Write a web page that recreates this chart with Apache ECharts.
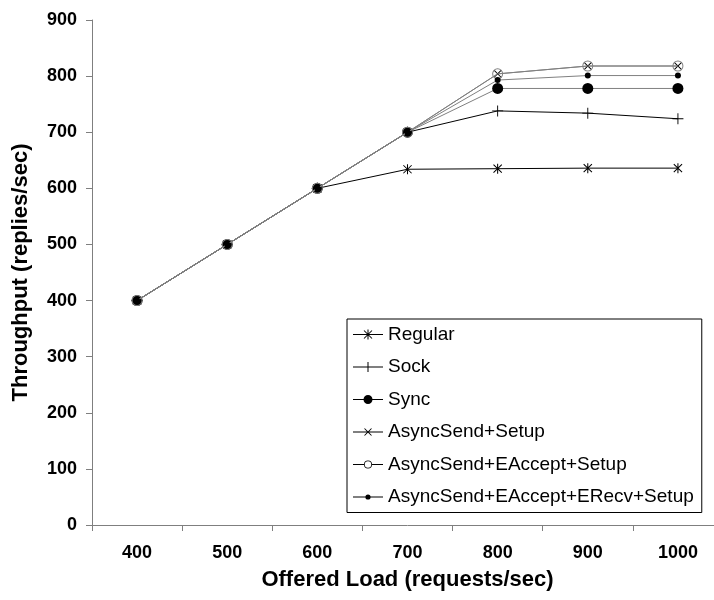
<!DOCTYPE html>
<html>
<head>
<meta charset="utf-8">
<script src="https://cdn.jsdelivr.net/npm/echarts@6/dist/echarts.min.js"></script>
<style>
  html, body { margin: 0; padding: 0; background: #fff; overflow: hidden; }
  /* the plot runs a little past the right edge of the 714px page, as the axis is cut off there */
  #chart { width: 723px; height: 600px; }
</style>
</head>
<body>
<div id="chart"></div>
<script>
// Offered load levels (requests/sec)
const loads = ['400', '500', '600', '700', '800', '900', '1000'];

// Throughput (replies/sec) per server variant
const regular      = [400, 500, 600, 634, 635, 636, 636];
const sock         = [400, 500, 600, 700, 738, 734, 724];
const sync         = [400, 500, 600, 700, 778, 778, 778];
const asyncSetup   = [400, 500, 600, 700, 804, 818, 818];
const asyncAccept  = [400, 500, 600, 700, 804, 818, 818];
const asyncRecv    = [400, 500, 600, 700, 793, 801, 801];

const seriesNames = [
  'Regular',
  'Sock',
  'Sync',
  'AsyncSend+Setup',
  'AsyncSend+EAccept+Setup',
  'AsyncSend+EAccept+ERecv+Setup'
];

const yTicks = { min: 0, max: 900, step: 100 };

// --- marker shapes (filled outlines, so thin strokes are drawn as slim polygons) ---
const asteriskShape =
  'M-0.5,-5 L0.5,-5 L0.5,5 L-0.5,5 Z ' +
  'M-4.35,-3.65 L-3.65,-4.35 L4.35,3.65 L3.65,4.35 Z ' +
  'M-4.35,3.65 L3.65,-4.35 L4.35,-3.65 L-3.65,4.35 Z';
const plusShape =
  'M-0.5,-6 L0.5,-6 L0.5,6 L-0.5,6 Z ' +
  'M-6,-0.5 L6,-0.5 L6,0.5 L-6,0.5 Z';
const crossShape =
  'M-4.35,-3.65 L-3.65,-4.35 L4.35,3.65 L3.65,4.35 Z ' +
  'M-4.35,3.65 L3.65,-4.35 L4.35,-3.65 L-3.65,4.35 Z';
const ringShape =
  'M5,0 A5,5 0 1,1 -5,0 A5,5 0 1,1 5,0 Z ' +
  'M4.1,0 A4.1,4.1 0 1,0 -4.1,0 A4.1,4.1 0 1,0 4.1,0 Z';

// --- legend keys: short line with the marker in its middle ---
const bar = 'M0,-0.5 L30,-0.5 L30,0.5 L0,0.5 Z ';
const legendIcons = [
  'path://' + bar +
    'M14.5,-5 L15.5,-5 L15.5,5 L14.5,5 Z ' +
    'M10.65,-3.65 L11.35,-4.35 L19.35,3.65 L18.65,4.35 Z ' +
    'M10.65,3.65 L18.65,-4.35 L19.35,-3.65 L11.35,4.35 Z',
  'path://' + bar +
    'M14.5,-5 L15.5,-5 L15.5,5 L14.5,5 Z',
  'path://' + bar +
    'M19.5,0 A4.5,4.5 0 1,1 10.5,0 A4.5,4.5 0 1,1 19.5,0 Z',
  'path://' + bar +
    'M11.15,-3.15 L11.85,-3.85 L18.85,3.15 L18.15,3.85 Z ' +
    'M11.15,3.15 L18.15,-3.85 L18.85,-3.15 L11.85,3.85 Z',
  'path://M0,-0.5 L11,-0.5 L11,0.5 L0,0.5 Z M19,-0.5 L30,-0.5 L30,0.5 L19,0.5 Z ' +
    'M19,0 A4,4 0 1,1 11,0 A4,4 0 1,1 19,0 Z ' +
    'M18.2,0 A3.2,3.2 0 1,0 11.8,0 A3.2,3.2 0 1,0 18.2,0 Z',
  'path://' + bar +
    'M17.6,0 A2.6,2.6 0 1,1 12.4,0 A2.6,2.6 0 1,1 17.6,0 Z'
];

const FONT = '"Liberation Sans", Arial, sans-serif';
const axisGray = '#7f7f7f';

function lineSeries(name, values, symbol, size, markerColor, lineColor, z) {
  return {
    name: name,
    type: 'line',
    data: values,
    symbol: symbol,
    symbolSize: size,
    showAllSymbol: true,
    z: z,
    lineStyle: { color: lineColor, width: 1 },
    itemStyle: { color: markerColor, borderWidth: 0 }
  };
}

const chart = echarts.init(document.getElementById('chart'), null, { renderer: 'canvas' });

chart.setOption({
  animation: false,
  backgroundColor: '#fff',
  grid: { left: 92, top: 20, right: 0, bottom: 75, containLabel: false },
  xAxis: {
    type: 'category',
    data: loads,
    boundaryGap: true,
    name: 'Offered Load (requests/sec)',
    nameLocation: 'middle',
    nameGap: 44,
    nameTextStyle: { fontFamily: FONT, fontWeight: 'bold', fontSize: 22, color: '#000' },
    axisLine: { lineStyle: { color: axisGray, width: 1 } },
    axisTick: { show: true, alignWithLabel: false, inside: false, length: 6, lineStyle: { color: axisGray } },
    axisLabel: { margin: 19, fontFamily: FONT, fontWeight: 'bold', fontSize: 18, color: '#000' },
    splitLine: { show: false }
  },
  yAxis: {
    type: 'value',
    min: yTicks.min,
    max: yTicks.max,
    interval: yTicks.step,
    name: 'Throughput (replies/sec)',
    nameLocation: 'middle',
    nameRotate: 90,
    nameGap: 60,
    nameTextStyle: { fontFamily: FONT, fontWeight: 'bold', fontSize: 22, color: '#000' },
    axisLine: { show: true, lineStyle: { color: axisGray, width: 1 } },
    axisTick: { show: true, inside: false, length: 6, lineStyle: { color: axisGray } },
    axisLabel: { margin: 15, fontFamily: FONT, fontWeight: 'bold', fontSize: 18, color: '#000' },
    splitLine: { show: false }
  },
  legend: {
    orient: 'vertical',
    left: 347,
    top: 319,
    padding: [6, 8, 6, 6],
    itemWidth: 30,
    itemHeight: 12,
    itemGap: 13.5,
    borderColor: '#000',
    borderWidth: 1,
    backgroundColor: '#fff',
    symbolKeepAspect: true,
    textStyle: { fontFamily: FONT, fontSize: 19, color: '#000' },
    itemStyle: { borderWidth: 0 },
    data: seriesNames.map((n, i) => ({ name: n, icon: legendIcons[i], itemStyle: { color: '#000', borderWidth: 0 } }))
  },
  series: [
    lineSeries(seriesNames[0], regular, 'path://' + asteriskShape, [9, 10], '#000', '#000', 2),
    lineSeries(seriesNames[1], sock, 'path://' + plusShape, [11, 11], '#000', '#000', 2),
    lineSeries(seriesNames[2], sync, 'circle', 11, '#000', '#808080', 3),
    lineSeries(seriesNames[3], asyncSetup, 'path://' + crossShape, [8, 8], '#000', '#808080', 4),
    lineSeries(seriesNames[4], asyncAccept, 'path://' + ringShape, [11, 11], '#808080', '#808080', 5),
    lineSeries(seriesNames[5], asyncRecv, 'circle', 6, '#000', '#808080', 6)
  ]
});
</script>
</body>
</html>
